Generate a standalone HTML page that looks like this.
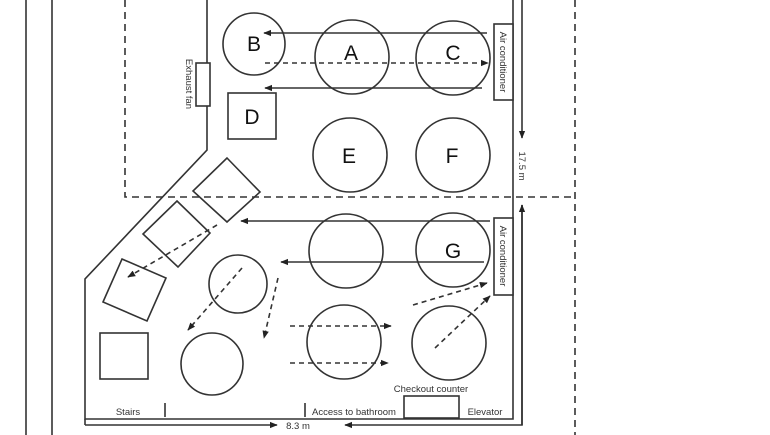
<!DOCTYPE html>
<html><head><style>body{margin:0;background:#fff}svg{display:block}</style></head><body>
<svg width="770" height="435" viewBox="0 0 770 435" xmlns="http://www.w3.org/2000/svg" font-family="Liberation Sans, sans-serif">
<defs><marker id="a" viewBox="0 0 10 10" refX="9" refY="5" markerWidth="5" markerHeight="5" orient="auto"><path d="M0,1 L10,5 L0,9z" fill="#222"/></marker></defs>
<g stroke="#333" fill="none" stroke-width="1.6">
<line x1="26" y1="0" x2="26" y2="435"/><line x1="52" y1="0" x2="52" y2="435"/>
<g stroke-dasharray="7,5"><polyline points="125,0 125,197 575,197"/><line x1="575" y1="0" x2="575" y2="435"/></g>
<polyline points="207,0 207,150 85,279 85,419 513,419 513,0"/>
<line x1="85" y1="419" x2="85" y2="425"/>
<line x1="85" y1="425" x2="277" y2="425" marker-end="url(#a)"/>
<polyline points="522,205 522,425 345,425" marker-end="url(#a)"/>
<line x1="522" y1="0" x2="522" y2="138" marker-end="url(#a)"/>
<line x1="522" y1="425" x2="522" y2="205" marker-end="url(#a)"/>
<circle cx="254" cy="44" r="31"/><circle cx="352" cy="57" r="37"/><circle cx="453" cy="58" r="37"/>
<circle cx="350" cy="155" r="37"/><circle cx="453" cy="155" r="37"/>
<rect x="228" y="93" width="48" height="46"/>
<rect x="494" y="24" width="19" height="76" fill="#fff"/>
<rect x="196" y="63" width="14" height="43" fill="#fff"/>
<line x1="487" y1="33" x2="264" y2="33" marker-end="url(#a)"/>
<line x1="482" y1="88" x2="265" y2="88" marker-end="url(#a)"/>
<line x1="265" y1="63" x2="488" y2="63" stroke-dasharray="5,4" marker-end="url(#a)"/>
<circle cx="346" cy="251" r="37"/><circle cx="453" cy="250" r="37"/>
<circle cx="344" cy="342" r="37"/><circle cx="449" cy="343" r="37"/>
<circle cx="238" cy="284" r="29"/><circle cx="212" cy="364" r="31"/>
<rect x="494" y="218" width="19" height="77" fill="#fff"/>
<line x1="490" y1="221" x2="241" y2="221" marker-end="url(#a)"/>
<line x1="484" y1="262" x2="281" y2="262" marker-end="url(#a)"/>
<g stroke-dasharray="5,4">
<line x1="413" y1="305" x2="487" y2="283" marker-end="url(#a)"/>
<line x1="435" y1="348" x2="490" y2="296" marker-end="url(#a)"/>
<line x1="290" y1="326" x2="391" y2="326" marker-end="url(#a)"/>
<line x1="290" y1="363" x2="388" y2="363" marker-end="url(#a)"/>
<line x1="217" y1="225" x2="128" y2="277" marker-end="url(#a)"/>
<line x1="242" y1="268" x2="188" y2="330" marker-end="url(#a)"/>
<line x1="278" y1="278" x2="264" y2="338" marker-end="url(#a)"/>
</g>
<polygon points="227,158 260,192 227,222 193,191"/>
<polygon points="177,201 210,233 178,267 143,234"/>
<polygon points="122,259 166,278 147,321 103,302"/>
<rect x="100" y="333" width="48" height="46"/>
<line x1="165" y1="403" x2="165" y2="417"/><line x1="305" y1="403" x2="305" y2="417"/>
<rect x="404" y="396" width="55" height="22"/>
</g>
<g font-size="21" fill="#111" text-anchor="middle">
<text x="254" y="51">B</text><text x="351" y="60">A</text><text x="453" y="60">C</text>
<text x="252" y="124">D</text><text x="349" y="163">E</text><text x="452" y="163">F</text>
<text x="453" y="258">G</text></g>
<g font-size="9.5" fill="#333">
<text transform="translate(500,62) rotate(90)" text-anchor="middle">Air conditioner</text>
<text transform="translate(500,256) rotate(90)" text-anchor="middle">Air conditioner</text>
<text transform="translate(186,84) rotate(90)" text-anchor="middle">Exhaust fan</text>
<text transform="translate(519,166) rotate(90)" text-anchor="middle">17.5 m</text>
<text x="128" y="415" text-anchor="middle">Stairs</text>
<text x="354" y="415" text-anchor="middle">Access to bathroom</text>
<text x="431" y="392" text-anchor="middle">Checkout counter</text>
<text x="485" y="415" text-anchor="middle">Elevator</text>
<text x="298" y="429" text-anchor="middle">8.3 m</text>
</g>
</svg>
</body></html>
